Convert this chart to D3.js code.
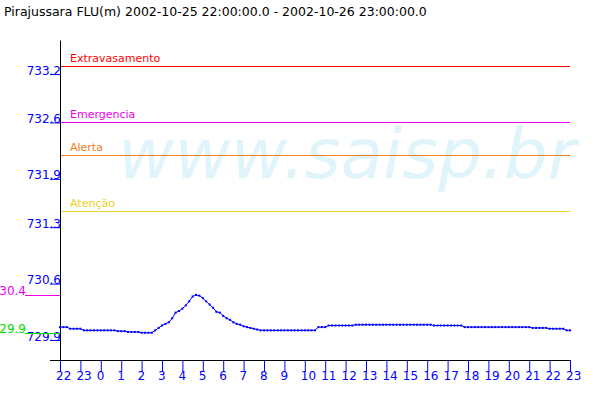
<!DOCTYPE html>
<html><head><meta charset="utf-8">
<script src="https://cdn.jsdelivr.net/npm/d3@7"></script>
<style>
body{margin:0;background:#fff}
svg{display:block}
text{font-family:"DejaVu Sans",sans-serif}
</style>
</head><body><svg id="chart" width="600" height="400"></svg>
<script>
// ---- data ----
const titleText = "Pirajussara FLU(m) 2002-10-25 22:00:00.0 - 2002-10-26 23:00:00.0";
const watermarkText = "www.saisp.br";
const startTime = new Date(2002, 9, 25, 22, 0, 0);
const endTime = new Date(2002, 9, 26, 23, 0, 0);
const stepMinutes = 10;
// water level (m), one reading every 10 minutes, one row per hour
const levels = [
  730.06,730.06,730.06,730.04,730.04,730.04, // 22h
  730.04,730.02,730.02,730.02,730.02,730.02, // 23h
  730.02,730.02,730.02,730.02,730.02,730.01, // 0h
  730.01,730.01,730.00,730.00,730.00,730.00, // 1h
  729.99,729.99,729.99,729.99,730.02,730.05, // 2h
  730.08,730.10,730.12,730.17,730.24,730.26, // 3h
  730.29,730.33,730.38,730.44,730.46,730.45, // 4h
  730.42,730.38,730.34,730.30,730.25,730.24, // 5h
  730.20,730.17,730.15,730.12,730.10,730.09, // 6h
  730.07,730.06,730.05,730.04,730.03,730.02, // 7h
  730.02,730.02,730.02,730.02,730.02,730.02, // 8h
  730.02,730.02,730.02,730.02,730.02,730.02, // 9h
  730.02,730.02,730.02,730.02,730.06,730.06, // 10h
  730.06,730.08,730.08,730.08,730.08,730.08, // 11h
  730.08,730.08,730.08,730.09,730.09,730.09, // 12h
  730.09,730.09,730.09,730.09,730.09,730.09, // 13h
  730.09,730.09,730.09,730.09,730.09,730.09, // 14h
  730.09,730.09,730.09,730.09,730.09,730.09, // 15h
  730.09,730.09,730.08,730.08,730.08,730.08, // 16h
  730.08,730.08,730.08,730.08,730.08,730.06, // 17h
  730.06,730.06,730.06,730.06,730.06,730.06, // 18h
  730.06,730.06,730.06,730.06,730.06,730.06, // 19h
  730.06,730.06,730.06,730.06,730.06,730.06, // 20h
  730.06,730.05,730.05,730.05,730.05,730.05, // 21h
  730.04,730.04,730.04,730.04,730.04,730.02, // 22h
  730.02                                      // 23h
];
const thresholdNames = ["Extravasamento", "Emergencia", "Alerta", "Atenção"];
const thresholdValues = [733.3, 732.6, 732.2, 731.5];
const yTickValues = [729.9, 730.6, 731.3, 731.9, 732.6, 733.2];
const yDomain = [729.652, 733.623];

// ---- styles ----
const thresholdColors = ["#ff0000", "#ee00ee", "#f08020", "#f0d020"];
const blue = "#0000ff";
const maxColor = "#ee00ee", minColor = "#00e000";

// ---- build ----
const series = levels.map((v, i) => ({t: d3.timeMinute.offset(startTime, i * stepMinutes), v}));
const svg = d3.select("#chart");
const plotLeft = 60, plotRight = 570, plotTop = 40, plotBottom = 360;

const x = d3.scaleTime().domain([startTime, endTime]).range([plotLeft, plotRight]);
const y = d3.scaleLinear().domain(yDomain).range([plotBottom, plotTop]);

// watermark
svg.append("text")
  .attr("x", 118).attr("y", 178)
  .attr("font-size", 69).attr("font-style", "oblique")
  .attr("fill", "#e0f4fc")
  .text(watermarkText);

// title
svg.append("text")
  .attr("x", 4).attr("y", 16)
  .attr("font-size", 12.5).attr("fill", "#000")
  .text(titleText);

// thresholds
const th = svg.append("g");
thresholdValues.forEach((v, i) => {
  th.append("line")
    .attr("x1", plotLeft).attr("x2", plotRight)
    .attr("y1", Math.round(y(v)) + 0.5).attr("y2", Math.round(y(v)) + 0.5)
    .attr("stroke", thresholdColors[i]).attr("stroke-width", 1);
  th.append("text")
    .attr("x", plotLeft + 10).attr("y", Math.round(y(v)) - 4.5)
    .attr("font-size", 11).attr("fill", thresholdColors[i])
    .text(thresholdNames[i]);
});

// y axis
const yAxis = svg.append("g").attr("transform", `translate(${plotLeft},0)`)
  .call(d3.axisLeft(y).tickValues(yTickValues).tickFormat(d3.format(".1f"))
        .tickSize(10).tickSizeOuter(0));
yAxis.select(".domain").attr("stroke", "#000");
yAxis.selectAll(".tick line").attr("stroke", blue);
yAxis.selectAll(".tick text")
  .attr("x", 1).attr("dy", 0).attr("y", 0)
  .attr("fill", blue).attr("font-size", 12)
  .attr("font-family", "DejaVu Sans");

// x axis
const xAxis = svg.append("g").attr("transform", `translate(0,${plotBottom})`)
  .call(d3.axisBottom(x).ticks(d3.timeHour.every(1)).tickFormat(d3.timeFormat("%-H"))
        .tickSize(12).tickSizeOuter(0));
xAxis.select(".domain").remove();
xAxis.append("line")
  .attr("x1", plotLeft - 10).attr("x2", plotRight)
  .attr("y1", 0.5).attr("y2", 0.5)
  .attr("stroke", "#000");
xAxis.selectAll(".tick line").attr("stroke", blue);
xAxis.selectAll(".tick text")
  .attr("x", -4.5).attr("y", 19.5).attr("dy", 0)
  .attr("text-anchor", "start")
  .attr("fill", blue).attr("font-size", 12)
  .attr("font-family", "DejaVu Sans");

// max / min markers (labels truncated to one decimal, partly cut by the left edge as in the source)
const vMax = d3.max(levels), vMin = d3.min(levels);
const trunc = v => (Math.floor(v * 10 + 1e-9) / 10).toFixed(1);
[[vMax, maxColor], [vMin, minColor]].forEach(([v, c]) => {
  const yy = Math.round(y(v)) + 0.5;
  svg.append("line").attr("x1", 25).attr("x2", plotLeft)
    .attr("y1", yy).attr("y2", yy).attr("stroke", c);
  svg.append("text").attr("x", 26).attr("y", yy - 0.5)
    .attr("text-anchor", "end").attr("font-size", 12).attr("fill", c)
    .text(trunc(v));
});

// series
const line = d3.line().x(d => x(d.t)).y(d => y(d.v));
svg.append("path").datum(series)
  .attr("d", line).attr("fill", "none")
  .attr("stroke", blue).attr("stroke-width", 1);
svg.append("g").selectAll("rect").data(series).join("rect")
  .attr("x", d => x(d.t) - 1).attr("y", d => y(d.v) - 1)
  .attr("width", 2).attr("height", 2).attr("fill", blue);
</script>
</body></html>
